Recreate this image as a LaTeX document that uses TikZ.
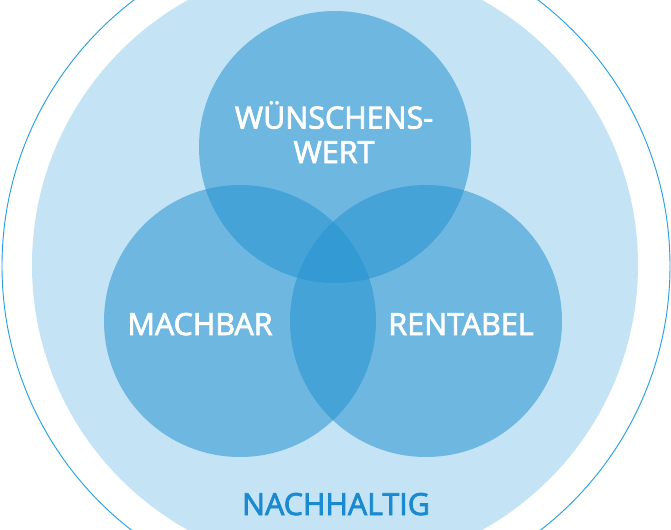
\documentclass[tikz,border=0pt]{standalone}
\usepackage{fontspec}
\setmainfont{Open Sans}[FakeBold=2.5]
\definecolor{skyfill}{RGB}{196,227,244}
\definecolor{vennblue}{RGB}{38,148,210}
\definecolor{ringline}{RGB}{42,160,224}
\definecolor{labelblue}{RGB}{26,138,208}
\tikzset{
	venncircle/.style={fill=vennblue, fill opacity=0.55},
	venntext/.style={text=white, font=\fontsize{26}{29.4}\selectfont, align=center, anchor=base, inner sep=0pt},
}

\begin{document}
\begin{tikzpicture}[x=0.03cm, y=0.03cm]
		%%%%% START %%%%%
		\useasboundingbox (0, 0) rectangle (671, -529);
		\clip (0, 0) rectangle (671, -529);
		
		\draw[ringline, line width=0.8pt] (336, -266) circle (334);
		\fill[skyfill] (335, -265) circle (303);
		
		\fill[venncircle] (335, -147) circle (136);
		\fill[venncircle] (240, -321) circle (136);
		\fill[venncircle] (426, -321) circle (136);
		
		\node[venntext] (wunsch) at (334, -163) {WÜNSCHENS-\\WERT};
		\node[venntext] (machbar) at (200, -335) {MACHBAR};
		\node[venntext] (rentabel) at (461, -335) {RENTABEL};
		
		\node[venntext, text=labelblue] (nachhaltig) at (336, -515) {NACHHALTIG};
		%%%%% END %%%%%
	\end{tikzpicture}
\end{document}
